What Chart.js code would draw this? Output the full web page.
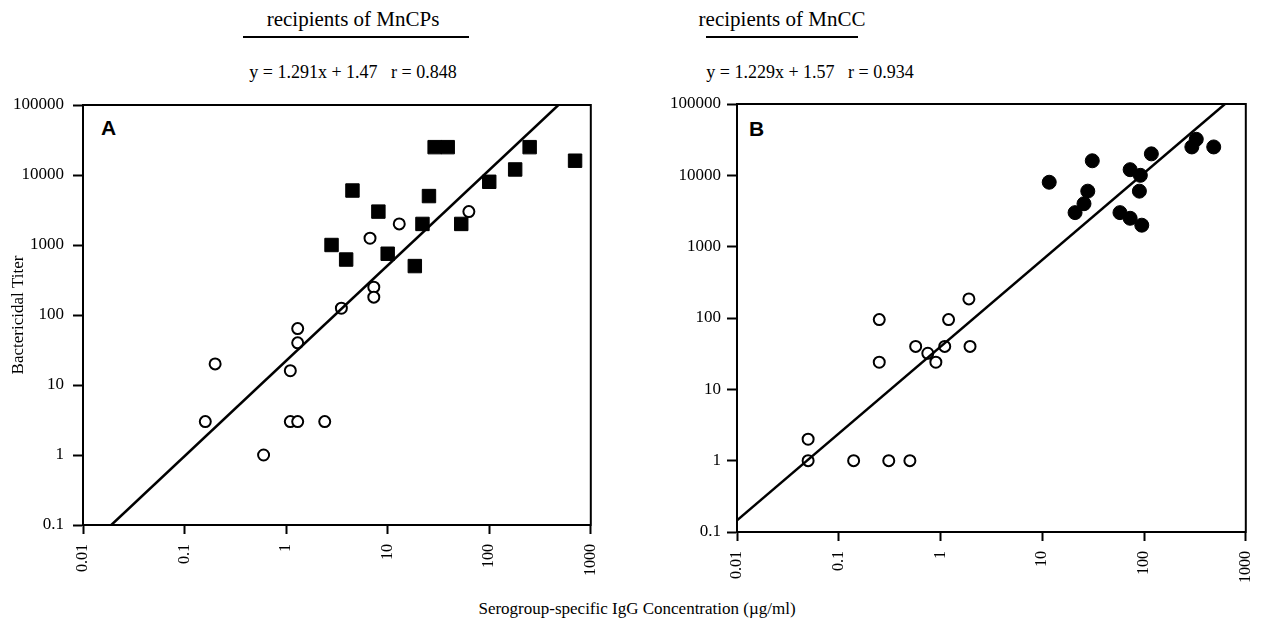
<!DOCTYPE html>
<html><head><meta charset="utf-8">
<script src="https://cdn.jsdelivr.net/npm/chart.js@4"></script>
<style>
body{margin:0;width:1275px;height:638px;background:#fff;position:relative;overflow:hidden;font-family:"Liberation Serif",serif;color:#000}
.t{position:absolute;white-space:nowrap;transform:translateX(-50%);line-height:1}
.ul{position:absolute;height:2px;background:#000}
.lt{position:absolute;font-family:"Liberation Sans",Arial,sans-serif;font-weight:bold;font-size:21px;line-height:1}
canvas{position:absolute;top:0}
</style></head><body>
<div class="t" style="left:353px;top:9px;font-size:21px;">recipients of MnCPs</div>
<div class="ul" style="left:243px;top:36px;width:226px"></div>
<div class="t" style="left:353px;top:63px;font-size:18px;">y = 1.291x + 1.47&nbsp;&nbsp;&nbsp;r = 0.848</div>
<div class="t" style="left:782px;top:9px;font-size:21px;">recipients of MnCC</div>
<div class="ul" style="left:706px;top:36px;width:152px"></div>
<div class="t" style="left:810px;top:63px;font-size:18px;">y = 1.229x + 1.57&nbsp;&nbsp;&nbsp;r = 0.934</div>
<div class="t" style="left:637px;top:600px;font-size:17px;">Serogroup-specific IgG Concentration (µg/ml)</div>
<div class="lt" style="left:101px;top:117px">A</div>
<div class="lt" style="left:749px;top:118px">B</div>
<canvas id="cA" width="620" height="638" style="left:0"></canvas>
<canvas id="cB" width="635" height="638" style="left:640px"></canvas>
<script>
// ---- data ----
const xTickValues = [0.01, 0.1, 1, 10, 100, 1000];
const xTickLabels = ['0.01', '0.1', '1', '10', '100', '1000'];
const yTickValues = [0.1, 1, 10, 100, 1000, 10000, 100000];
const yTickLabels = ['0.1', '1', '10', '100', '1000', '10000', '100000'];

// Panel A: recipients of MnCPs
const mncpsOpenX = [0.16, 0.2, 0.6, 1.1, 1.1, 1.3, 1.3, 1.3, 2.4, 3.5, 6.7, 7.3, 7.3, 13, 63];
const mncpsOpenY = [3, 20, 1, 16, 3, 3, 40, 64, 3, 125, 1250, 250, 180, 2000, 3000];
const mncpsFilledX = [2.8, 3.9, 4.5, 8.1, 10, 18.5, 22, 25.5, 29, 39, 53, 100, 180, 250, 700];
const mncpsFilledY = [1000, 620, 6000, 3000, 750, 500, 2000, 5000, 25000, 25000, 2000, 8000, 12000, 25000, 16000];
const fitAX = [0.019, 480];
const fitAY = [0.1, 100000];

// Panel B: recipients of MnCC
const mnccOpenX = [0.05, 0.05, 0.14, 0.31, 0.5, 0.25, 0.25, 0.57, 0.75, 0.9, 1.1, 1.2, 1.9, 1.95];
const mnccOpenY = [2, 1, 1, 1, 1, 95, 24, 40, 32, 24, 40, 95, 185, 40];
const mnccFilledX = [11.7, 31, 21, 25.7, 28, 58, 73, 95, 73, 92, 90, 118, 326, 295, 484];
const mnccFilledY = [8000, 16000, 3000, 4000, 6000, 3000, 2500, 2000, 12000, 10000, 6000, 20000, 32000, 25000, 25000];
const fitBX = [0.01, 624];
const fitBY = [0.146, 100000];

// ---- helpers ----
const pts = (xs, ys) => xs.map((x, i) => ({x: x, y: ys[i]}));
const FONT = '"Liberation Serif", serif';

const boxPlugin = {
  id: 'box',
  afterDraw(chart) {
    const a = chart.chartArea, ctx = chart.ctx;
    ctx.save();
    ctx.strokeStyle = '#000';
    ctx.lineWidth = 2;
    ctx.strokeRect(a.left, a.top, a.right - a.left, a.bottom - a.top);
    ctx.restore();
  }
};

function makeChart(id, cfg) {
  const datasets = [
    {type: 'line', data: pts(cfg.fitX, cfg.fitY), borderColor: '#000', borderWidth: 2.5,
     pointRadius: 0, fill: false, showLine: true, order: 0},
    {data: pts(cfg.openX, cfg.openY), pointStyle: 'circle', pointRadius: 5.5,
     backgroundColor: '#fff', borderColor: '#000', borderWidth: 2, order: 1},
    {data: pts(cfg.fillX, cfg.fillY), pointStyle: cfg.fillStyle, pointRadius: cfg.fillRadius,
     backgroundColor: '#000', borderColor: '#000', borderWidth: 1, order: 1}
  ];
  return new Chart(document.getElementById(id), {
    type: 'scatter',
    data: {datasets: datasets},
    options: {
      responsive: false, animation: false, events: [],
      layout: {padding: {top: cfg.top, right: cfg.right, left: 0, bottom: 0}},
      plugins: {legend: {display: false}, tooltip: {enabled: false}},
      scales: {
        x: {
          type: 'logarithmic', position: 'bottom', min: 0.01, max: 1000,
          afterBuildTicks: s => { s.ticks = xTickValues.map(v => ({value: v})); },
          afterFit: s => { s.height = cfg.xh; },
          ticks: {
            autoSkip: false, minRotation: 90, maxRotation: 90, padding: 10,
            color: '#000', font: {family: FONT, size: 16},
            callback: v => xTickLabels[xTickValues.indexOf(v)]
          },
          grid: {drawOnChartArea: false, drawTicks: true, tickLength: 9, tickWidth: 2, tickColor: '#000'},
          border: {display: true, color: '#000', width: 2}
        },
        y: {
          type: 'logarithmic', position: 'left', min: 0.1, max: 100000,
          afterBuildTicks: s => { s.ticks = yTickValues.map(v => ({value: v})); },
          afterFit: s => { s.width = cfg.yw; },
          title: {display: cfg.ytitle !== '', text: cfg.ytitle, color: '#000',
                  font: {family: FONT, size: 17}, padding: {top: 8, bottom: 0}},
          ticks: {
            autoSkip: false, padding: cfg.ypad, color: '#000', font: {family: FONT, size: 17},
            callback: v => yTickLabels[yTickValues.indexOf(v)]
          },
          grid: {drawOnChartArea: false, drawTicks: true, tickLength: 10, tickWidth: 2, tickColor: '#000'},
          border: {display: true, color: '#000', width: 2}
        }
      }
    },
    plugins: [boxPlugin]
  });
}

makeChart('cA', {
  openX: mncpsOpenX, openY: mncpsOpenY, fillX: mncpsFilledX, fillY: mncpsFilledY,
  fitX: fitAX, fitY: fitAY, fillStyle: 'rect', fillRadius: 9.5,
  top: 105, right: 26, xh: 113, yw: 83, ypad: 9, ytitle: 'Bactericidal Titer'
});
makeChart('cB', {
  openX: mnccOpenX, openY: mnccOpenY, fillX: mnccFilledX, fillY: mnccFilledY,
  fitX: fitBX, fitY: fitBY, fillStyle: 'circle', fillRadius: 7,
  top: 104, right: 17, xh: 106, yw: 97, ypad: 6, ytitle: ''
});
</script>
</body></html>
